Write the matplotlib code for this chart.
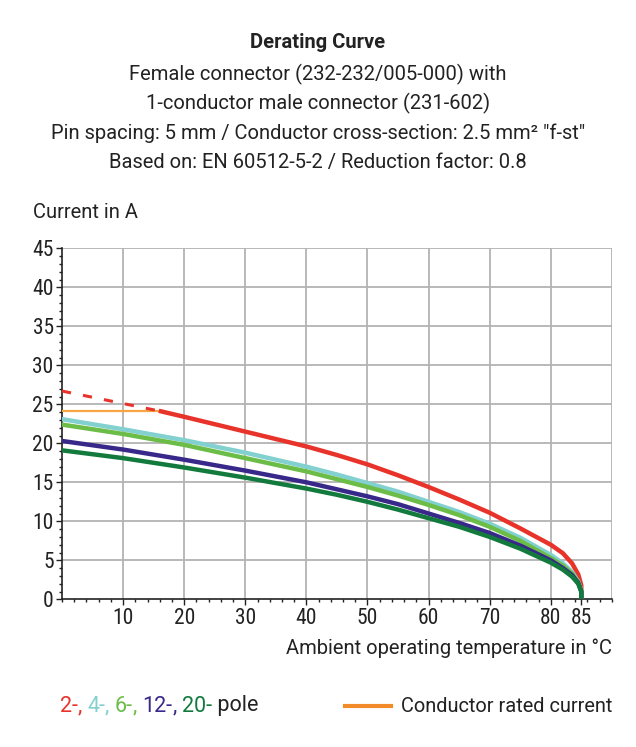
import matplotlib
matplotlib.use("Agg")
import matplotlib.pyplot as plt
from matplotlib.ticker import MultipleLocator, FixedLocator

plt.rcParams['font.family'] = ['Roboto', 'DejaVu Sans']

# data
temps = [0, 10, 20, 30, 40, 45, 50, 55, 60, 65, 70, 75, 80, 82, 83.5, 84.5, 85, 85]
pole4 = [23.1, 21.8, 20.4, 18.8, 17.0, 16.0, 14.9, 13.8, 12.5, 11.2, 9.7, 7.9, 5.7, 4.6, 3.5, 2.3, 1.2, 0]
pole6 = [22.4, 21.2, 19.8, 18.1, 16.4, 15.4, 14.4, 13.3, 12.1, 10.8, 9.3, 7.5, 5.3, 4.3, 3.3, 2.2, 1.1, 0]
pole12 = [20.3, 19.2, 17.9, 16.5, 15.0, 14.1, 13.2, 12.2, 11.0, 9.8, 8.5, 6.9, 5.0, 4.0, 3.1, 2.1, 1.0, 0]
pole20 = [19.1, 18.1, 16.9, 15.6, 14.2, 13.4, 12.5, 11.5, 10.4, 9.3, 8.0, 6.5, 4.7, 3.8, 2.9, 2.0, 1.0, 0]

# 2-pole: dashed above the conductor rated current, solid below
red_dash_t = [0, 10, 16.2]
red_dash_i = [26.7, 25.1, 24.1]
red_t = [16.2, 20, 30, 40, 45, 50, 55, 60, 65, 70, 75, 80, 82, 83.5, 84.5, 85, 85]
red_i = [24.1, 23.4, 21.5, 19.6, 18.5, 17.3, 15.9, 14.4, 12.8, 11.1, 9.1, 7.0, 5.9, 4.6, 3.2, 1.8, 0]

rated_t = [0, 16.2]
rated_i = [24.1, 24.1]

xticks = [10, 20, 30, 40, 50, 60, 70, 80, 85]
yticks = [0, 5, 10, 15, 20, 25, 30, 35, 40, 45]

c_red = '#e8332a'
c_cyan = '#82d0cf'
c_green = '#6cbd48'
c_blue = '#38288a'
c_dkgreen = '#117a3c'
c_orange = '#f7a540'
c_orange_leg = '#f38a2a'

fig = plt.figure(figsize=(6.36, 7.47), dpi=100)
ax = fig.add_axes([0.0975, 0.1977, 0.8645, 0.4699])

# grid
for x in [10, 20, 30, 40, 50, 60, 70, 80, 90]:
    ax.axvline(x, color='#b3b3b3', lw=1.3, zorder=1)
for y in [5, 10, 15, 20, 25, 30, 35, 40, 45]:
    ax.axhline(y, color='#b3b3b3', lw=1.3, zorder=1)

lw = 3.2
ax.plot(rated_t, rated_i, color=c_orange, lw=1.6, zorder=3)
ax.plot(red_dash_t, red_dash_i, color=c_red, lw=2.2, ls=(0, (3, 4)), zorder=3)
ax.plot(red_t, red_i, color=c_red, lw=lw, zorder=3, solid_joinstyle='round')
ax.plot(temps, pole4, color=c_cyan, lw=lw, zorder=3, solid_joinstyle='round')
ax.plot(temps, pole6, color=c_green, lw=lw, zorder=3, solid_joinstyle='round')
ax.plot(temps, pole12, color=c_blue, lw=lw, zorder=3, solid_joinstyle='round')
ax.plot(temps, pole20, color=c_dkgreen, lw=lw, zorder=3, solid_joinstyle='round')

ax.set_xlim(0, 90)
ax.set_ylim(0, 45)
ax.xaxis.set_major_locator(FixedLocator(xticks))
ax.yaxis.set_major_locator(FixedLocator(yticks))
ax.xaxis.set_minor_locator(MultipleLocator(2))
ax.yaxis.set_minor_locator(MultipleLocator(1))
ax.tick_params(which='major', length=4, width=1, labelsize=15.5, colors='#222222', pad=2)
ax.tick_params(which='minor', length=2.5, width=1, colors='#222222')
for lab in ax.get_xticklabels() + ax.get_yticklabels():
    lab.set_family(['Roboto Condensed', 'Roboto', 'DejaVu Sans'])
for s in ['top', 'right']:
    ax.spines[s].set_visible(False)
for s in ['left', 'bottom']:
    ax.spines[s].set_color('#222222')
    ax.spines[s].set_linewidth(1.2)

# titles
tc = '#222222'
fs = 14.5
fig.text(0.5, 1 - 43 / 747, 'Derating Curve', ha='center', va='center', fontsize=fs, fontweight='bold', color=tc)
lines = ['Female connector (232-232/005-000) with',
         '1-conductor male connector (231-602)',
         'Pin spacing: 5 mm / Conductor cross-section: 2.5 mm² "f-st"',
         'Based on: EN 60512-5-2 / Reduction factor: 0.8']
for k, t in enumerate(lines):
    fig.text(0.5, 1 - (74 + 29.5 * k) / 747, t, ha='center', va='center', fontsize=fs, color=tc)

fig.text(33 / 636, 1 - 213 / 747, 'Current in A', ha='left', va='center', fontsize=fs, color=tc)
fig.text(612 / 636, 1 - 648 / 747, 'Ambient operating temperature in °C', ha='right', va='center', fontsize=fs, color=tc)

# legend with coloured pole numbers
fig.canvas.draw()
r = fig.canvas.get_renderer()
parts = [('2-', c_red), (', ', c_red), ('4-', c_cyan), (', ', c_cyan), ('6-', c_green), (', ', c_green),
         ('12-', c_blue), (', ', c_blue), ('20-', c_dkgreen), (' pole', tc)]
xpix = 60
ypos = 1 - 706 / 747
for t, c in parts:
    txt = fig.text(xpix / 636, ypos, t, ha='left', va='center', fontsize=15.5, color=c)
    xpix = txt.get_window_extent(r).x1
fig.lines.append(plt.Line2D([345 / 636, 391 / 636], [ypos, ypos], transform=fig.transFigure, color=c_orange_leg, lw=3))
fig.text(612 / 636, ypos, 'Conductor rated current', ha='right', va='center', fontsize=14.4, color=tc)

fig.savefig('out.png', dpi=100)
